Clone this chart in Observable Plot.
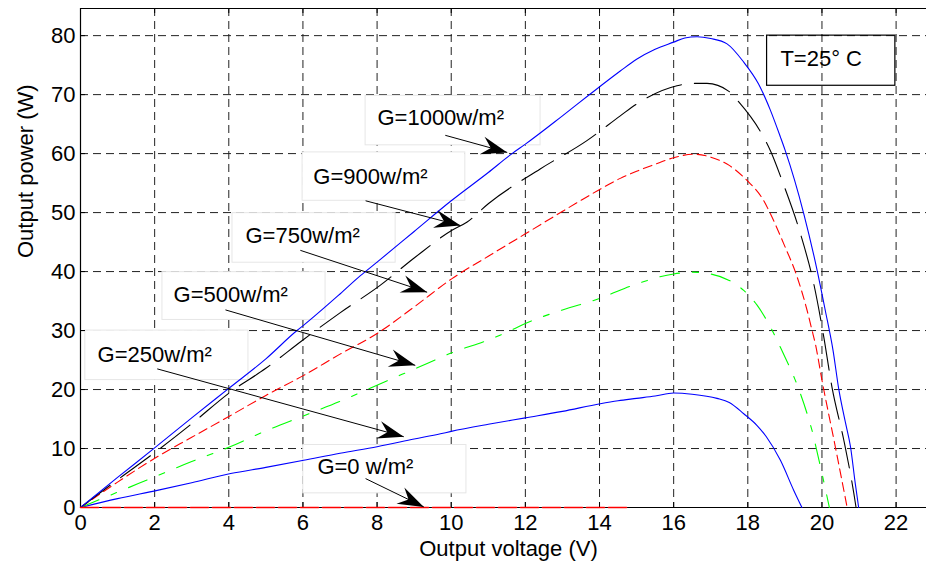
<!DOCTYPE html>
<html><head><meta charset="utf-8">
<script src="https://cdn.jsdelivr.net/npm/d3@7"></script>
<script src="https://cdn.jsdelivr.net/npm/@observablehq/plot@0.6"></script>
<style>body{margin:0;background:#fff}</style>
</head><body><div id="chart"></div>
<script>
// ---------- data ----------
const xTicks = [0, 2, 4, 6, 8, 10, 12, 14, 16, 18, 20, 22];
const yTicks = [0, 10, 20, 30, 40, 50, 60, 70, 80];
const xMax = 22.82, yMax = 84.6;

const g1000x = [0, 1, 2, 3, 4, 5, 5.84, 6, 7, 7.55, 8, 9, 10, 11, 11.64, 12, 13, 13.75, 14.56, 15, 15.5, 16, 16.3, 16.63, 17, 17.44, 17.89, 18.29, 18.6, 18.88, 19.01, 19.51, 19.87, 20.09, 20.3, 20.45, 20.63, 20.77, 20.9, 20.99];
const g1000y = [0, 5.1, 10.1, 15.2, 20.2, 25.2, 30, 30.8, 36.2, 39.3, 41.6, 46.8, 52, 56.8, 60, 61.6, 66.4, 70.1, 74.0, 76.0, 77.7, 78.9, 79.6, 79.8, 79.5, 78.6, 75.5, 71.8, 67.5, 62.8, 60.5, 49.8, 40.2, 33.4, 26.6, 20.2, 14.5, 10.3, 4, 0];

const g900x = [0, 1, 2, 3, 4.05, 5, 6, 7, 8.09, 9, 10.02, 10.43, 11, 12.4, 13.66, 14.56, 15, 16.09, 16.5, 16.9, 17.48, 17.75, 18.38, 18.61, 18.95, 19.42, 19.78, 20.05, 20.27, 20.59, 20.86, 20.92];
const g900y = [0, 4.7, 9.3, 14.2, 19.6, 23.6, 28.4, 33, 37.7, 42.3, 47, 48.4, 51.5, 57.4, 62.2, 66.4, 68.4, 71.5, 71.9, 71.9, 70.6, 68.8, 63.3, 60.5, 55, 46.4, 37.9, 28.9, 20.4, 11.4, 2.4, 0];

const g750x = [0, 1, 2.07, 3, 4.05, 5, 6.02, 7, 8, 9, 10.02, 11, 12, 13.48, 14.11, 14.56, 15, 15.5, 16, 16.54, 17, 17.5, 17.89, 18.02, 18.43, 18.61, 18.97, 19.33, 19.6, 19.73, 19.82, 20.0, 20.36, 20.68];
const g750y = [0, 4.3, 8.6, 11.9, 15.6, 19, 22.4, 26, 29.5, 34, 38.8, 42.6, 46.4, 52, 54.3, 55.8, 57.0, 58.2, 59.3, 59.9, 59.4, 58.0, 56, 55.2, 52, 49.8, 44.7, 39.1, 33.4, 30.1, 27.8, 21.6, 10.3, 0];

const g500x = [0, 1, 2, 3, 4, 5, 6, 7, 8.09, 9.35, 10, 11, 11.6, 12, 13, 14.02, 14.3, 15, 16, 16.5, 16.99, 17.5, 17.89, 18.25, 18.7, 18.92, 19.28, 19.6, 19.73, 19.87, 20.0, 20.2];
const g500y = [0, 2.6, 5.2, 7.8, 10.2, 13, 15.5, 18, 21, 24.4, 26.2, 28.4, 30, 31.2, 33.5, 35.5, 36.2, 37.9, 39.6, 39.9, 39.6, 38.5, 36.8, 34.3, 29.5, 26.6, 21.6, 15.9, 13.1, 9.4, 5.8, 0];

const g250x = [0, 1, 2.07, 3, 4.05, 5, 6.02, 7, 8, 9, 9.71, 10, 11, 12, 13, 14.02, 14.5, 15, 15.5, 16.0, 16.5, 17.17, 17.5, 17.89, 18.25, 18.5, 18.88, 19.24, 19.46];
const g250y = [0, 1.5, 2.9, 4.2, 5.75, 6.8, 8.0, 9.2, 10.3, 11.6, 12.5, 12.9, 14.1, 15.2, 16.3, 17.6, 18.1, 18.5, 18.9, 19.4, 19.2, 18.5, 17.8, 15.9, 13.9, 12.0, 8, 2.9, 0];

const g0x = [0, 14.8];
const g0y = [0, 0];

// annotation labels (text left / baseline, data units)
const labelText = ["G=1000w/m²", "G=900w/m²", "G=750w/m²", "G=500w/m²", "G=250w/m²", "G=0 w/m²"];
const labelX = [8.01, 6.28, 4.45, 2.51, 0.46, 6.39];
const labelY = [64.8, 54.9, 44.8, 34.8, 24.6, 5.6];
// label boxes
const boxX1 = [7.69, 5.99, 4.1, 2.21, 0.13, 6.01];
const boxX2 = [12.41, 10.38, 8.5, 6.61, 4.53, 10.41];
const boxY1 = [61.4, 52.0, 41.5, 31.8, 21.6, 2.4];
const boxY2 = [69.8, 60.2, 49.9, 39.9, 30.0, 10.6];
// arrows: start -> tip
const arrX1 = [9.84, 7.69, 5.93, 3.91, 2.07, 7.69];
const arrY1 = [63.1, 52.0, 43.6, 33.5, 23.5, 4.9];
const arrX2 = [11.51, 10.25, 9.35, 9.03, 8.72, 9.26];
const arrY2 = [60.2, 47.8, 36.5, 24.1, 12.0, 0.1];

const tempText = ["T=25° C"];
const tempX = [18.88], tempY = [74.8];
const tempBoxX1 = [18.52], tempBoxX2 = [21.98], tempBoxY1 = [71.5], tempBoxY2 = [80.0];

const xTitle = ["Output voltage (V)"];
const yTitle = ["Output power (W)"];

// ---------- layout ----------
const W = 926, H = 571, mL = 80, mR = 0, mT = 8, mB = 64;
const kx = (W - mL - mR) / xMax, ky = (H - mT - mB) / yMax;

const series = (xs, ys) => xs.map((x, i) => ({x, y: ys[i]}));
const idx = labelText.map((_, i) => i);

// arrowhead (vback2 style) pointing up, tip at origin
const head = {draw(ctx) { ctx.moveTo(0, 0); ctx.lineTo(-9, 26); ctx.lineTo(0, 17); ctx.lineTo(9, 26); ctx.closePath(); }};
const headRot = idx.map(i => {
  const dx = (arrX2[i] - arrX1[i]) * kx, dy = -(arrY2[i] - arrY1[i]) * ky;
  return Math.atan2(dx, -dy) * 180 / Math.PI;
});

const font = 22;
const crv = "monotone-x";
const chart = Plot.plot({
  width: W, height: H,
  marginLeft: mL, marginRight: mR, marginTop: mT, marginBottom: mB,
  x: {domain: [0, xMax]},
  y: {domain: [0, yMax]},
  style: {fontFamily: "'Liberation Sans', Arial, sans-serif", fontSize: font + "px", color: "#000", background: "#fff"},
  marks: [
    Plot.gridX(xTicks, {stroke: "#222", strokeOpacity: 1, strokeDasharray: "8,5"}),
    Plot.gridY(yTicks, {stroke: "#222", strokeOpacity: 1, strokeDasharray: "8,5"}),
    Plot.rect(idx, {x1: i => boxX1[i], x2: i => boxX2[i], y1: i => boxY1[i], y2: i => boxY2[i], fill: "#fff", stroke: "#e6e6e6"}),
    Plot.ruleX([0], {stroke: "#000", strokeWidth: 1.2}),
    Plot.ruleY([0, yMax], {stroke: "#000", strokeWidth: 1.2}),
    Plot.tickX(xTicks, {x: d => d, insetTop: H - mT - mB - 5, stroke: "#000"}),
    Plot.tickX(xTicks, {x: d => d, insetBottom: H - mT - mB - 5, stroke: "#000"}),
    Plot.tickY(yTicks, {y: d => d, insetRight: W - mL - mR - 5, stroke: "#000"}),
    Plot.line(series(g250x, g250y), {x: "x", y: "y", curve: crv, stroke: "#0000ff", strokeWidth: 1.1}),
    Plot.line(series(g500x, g500y), {x: "x", y: "y", curve: crv, stroke: "#00ff00", strokeWidth: 1.1, strokeDasharray: "20,13,6,13"}),
    Plot.line(series(g750x, g750y), {x: "x", y: "y", curve: crv, stroke: "#ff0000", strokeWidth: 1.1, strokeDasharray: "9,5"}),
    Plot.line(series(g900x, g900y), {x: "x", y: "y", curve: crv, stroke: "#000", strokeWidth: 1.1, strokeDasharray: "37,13"}),
    Plot.line(series(g1000x, g1000y), {x: "x", y: "y", curve: crv, stroke: "#0000ff", strokeWidth: 1.1}),
    Plot.line(series(g0x, g0y), {x: "x", y: "y", stroke: "#ff0000", strokeWidth: 1.6, strokeDasharray: "18,4"}),
    Plot.link(idx, {x1: i => arrX1[i], y1: i => arrY1[i], x2: i => arrX2[i], y2: i => arrY2[i], stroke: "#000", strokeWidth: 1}),
    Plot.dot(idx, {x: i => arrX2[i], y: i => arrY2[i], symbol: head, rotate: i => headRot[i], fill: "#000", stroke: "none", r: 5}),
    Plot.text(idx, {x: i => labelX[i], y: i => labelY[i], text: i => labelText[i], textAnchor: "start", lineAnchor: "bottom", fontSize: font}),
    Plot.rect([0], {x1: () => tempBoxX1[0], x2: () => tempBoxX2[0], y1: () => tempBoxY1[0], y2: () => tempBoxY2[0], fill: "none", stroke: "#000", strokeWidth: 1.2}),
    Plot.text(tempText, {x: () => tempX[0], y: () => tempY[0], text: d => d, textAnchor: "start", lineAnchor: "bottom", fontSize: font}),
    Plot.axisX(xTicks, {tickSize: 0, tickPadding: 7, label: null, fontSize: font}),
    Plot.axisY(yTicks, {tickSize: 0, tickPadding: 5, label: null, fontSize: font}),
    Plot.text(xTitle, {frameAnchor: "bottom", text: d => d, dy: 48, dx: 5, fontSize: font}),
    Plot.text(yTitle, {frameAnchor: "left", text: d => d, rotate: -90, dx: -55, fontSize: font})
  ]
});
document.getElementById("chart").appendChild(chart);
</script>
</body></html>
